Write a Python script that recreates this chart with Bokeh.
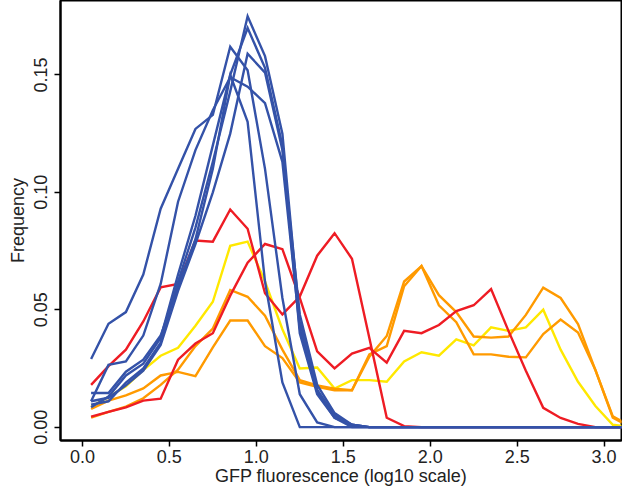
from bokeh.plotting import figure
from bokeh.models import ColumnDataSource, Range1d, FixedTicker, NumeralTickFormatter
from bokeh.embed import file_html
from bokeh.resources import INLINE

# bin centres (log10 GFP fluorescence)
x = [0.05, 0.15, 0.25, 0.35, 0.45, 0.55, 0.65, 0.75, 0.85, 0.95,
     1.05, 1.15, 1.25, 1.35, 1.45, 1.55, 1.65, 1.75, 1.85, 1.95,
     2.05, 2.15, 2.25, 2.35, 2.45, 2.55, 2.65, 2.75, 2.85, 2.95,
     3.05, 3.15]

Z16 = [0.0] * 16

blue1 = [0.0096, 0.011, 0.019, 0.025, 0.036, 0.062, 0.085, 0.113, 0.143, 0.175,
         0.158, 0.125, 0.045, 0.016, 0.005, 0.001] + Z16
blue2 = [0.0145, 0.0145, 0.0236, 0.0287, 0.039, 0.060, 0.080, 0.110, 0.150, 0.170,
         0.153, 0.120, 0.040, 0.014, 0.004, 0.001] + Z16
blue3 = [0.029, 0.044, 0.049, 0.065, 0.093, 0.110, 0.127, 0.133, 0.162, 0.152,
         0.110, 0.055, 0.014, 0.002, 0.0, 0.0] + Z16
blue4 = [0.011, 0.0125, 0.0178, 0.024, 0.035, 0.058, 0.078, 0.100, 0.125, 0.159,
         0.151, 0.118, 0.048, 0.018, 0.006, 0.001] + Z16
blue5 = [0.0085, 0.013, 0.022, 0.027, 0.038, 0.065, 0.090, 0.120, 0.150, 0.130,
         0.062, 0.019, 0.0, 0.0, 0.0, 0.0] + Z16
blue6 = [0.011, 0.0265, 0.028, 0.039, 0.061, 0.096, 0.118, 0.135, 0.149, 0.145,
         0.138, 0.113, 0.042, 0.015, 0.004, 0.0] + Z16

red1 = [0.018, 0.026, 0.033, 0.045, 0.0595, 0.061, 0.0795, 0.079, 0.0927, 0.0845,
        0.057, 0.048, 0.0556, 0.073, 0.0826, 0.0717, 0.038, 0.004, 0.0004, 0.0,
        0.0, 0.0, 0.0, 0.0, 0.0, 0.0, 0.0, 0.0, 0.0, 0.0, 0.0, 0.0]
red2 = [0.0045, 0.0065, 0.0084, 0.0113, 0.0121, 0.0287, 0.0356, 0.040, 0.056, 0.070,
        0.078, 0.0758, 0.055, 0.0323, 0.025, 0.0313, 0.0338, 0.0275, 0.041, 0.040,
        0.0435, 0.0494, 0.0519, 0.0588, 0.041, 0.024, 0.0082, 0.0039, 0.0014, 0.0,
        0.0, 0.0]

orange1 = [0.004, 0.0065, 0.0087, 0.0123, 0.018, 0.0245, 0.0345, 0.042, 0.0584, 0.0555,
           0.0475, 0.033, 0.020, 0.0178, 0.0164, 0.0157, 0.030, 0.0388, 0.062, 0.0686,
           0.0562, 0.049, 0.0386, 0.0381, 0.0386, 0.0478, 0.0594, 0.055, 0.0439, 0.0243,
           0.0046, 0.0006]
orange2 = [0.0077, 0.0113, 0.0135, 0.0165, 0.022, 0.0235, 0.0217, 0.034, 0.0454, 0.0454,
           0.0345, 0.0294, 0.019, 0.0172, 0.0157, 0.0157, 0.031, 0.0345, 0.060, 0.0686,
           0.0519, 0.0447, 0.031, 0.031, 0.030, 0.0297, 0.0396, 0.0458, 0.0403, 0.0243,
           0.004, 0.0]

yellow1 = [0.0087, 0.0128, 0.0174, 0.0243, 0.0304, 0.0338, 0.0432, 0.0534, 0.0772, 0.079,
           0.062, 0.0417, 0.025, 0.0254, 0.0164, 0.020, 0.020, 0.0193, 0.028, 0.0319,
           0.0304, 0.0374, 0.0348, 0.0425, 0.041, 0.0425, 0.050, 0.033, 0.0193, 0.009,
           0.001, 0.0]

x_ticks = [0.0, 0.5, 1.0, 1.5, 2.0, 2.5, 3.0]
y_ticks = [0.0, 0.05, 0.10, 0.15]

BLUE = "#3452A8"
RED = "#EE1C24"
ORANGE = "#FF9A00"
YELLOW = "#FFE800"

src = ColumnDataSource(dict(x=x, b1=blue1, b2=blue2, b3=blue3, b4=blue4, b5=blue5, b6=blue6,
                            r1=red1, r2=red2, o1=orange1, o2=orange2, y1=yellow1))

p = figure(width=622, height=488, output_backend="svg", toolbar_location=None,
           x_range=Range1d(-0.126, 3.1), y_range=Range1d(-0.0057, 0.1817),
           min_border_left=60, min_border_right=1, min_border_top=0, min_border_bottom=10)

p.background_fill_color = "white"
p.border_fill_color = "white"
p.outline_line_color = "black"
p.outline_line_width = 2
p.xgrid.visible = False
p.ygrid.visible = False

LW = 2.4
for col, c in [("y1", YELLOW), ("o2", ORANGE), ("o1", ORANGE), ("r2", RED), ("r1", RED),
               ("b6", BLUE), ("b5", BLUE), ("b4", BLUE), ("b3", BLUE), ("b2", BLUE), ("b1", BLUE)]:
    p.line("x", col, source=src, line_color=c, line_width=LW, line_join="miter")

FONT = "Liberation Sans"
for ax in (p.xaxis[0], p.yaxis[0]):
    ax.axis_line_color = "black"
    ax.axis_line_width = 2
    ax.major_tick_line_width = 1.5
    ax.major_tick_in = 0
    ax.major_tick_out = 6
    ax.minor_tick_line_color = None
    ax.major_label_text_font = FONT
    ax.major_label_text_font_size = "18px"
    ax.major_label_text_color = "#222222"
    ax.axis_label_text_font = FONT
    ax.axis_label_text_font_size = "18px"
    ax.axis_label_text_font_style = "normal"
    ax.axis_label_text_color = "#222222"

p.xaxis.ticker = FixedTicker(ticks=x_ticks)
p.yaxis.ticker = FixedTicker(ticks=y_ticks)
p.xaxis.formatter = NumeralTickFormatter(format="0.0")
p.yaxis.formatter = NumeralTickFormatter(format="0.00")
p.yaxis.major_label_orientation = "vertical"
p.xaxis.axis_label = "GFP fluorescence (log10 scale)"
p.yaxis.axis_label = "Frequency"
p.xaxis.major_label_standoff = 3
p.xaxis.axis_label_standoff = 0
p.yaxis.major_label_standoff = 7
p.yaxis.axis_label_standoff = 4

open("out.html", "w").write(file_html(p, INLINE))
